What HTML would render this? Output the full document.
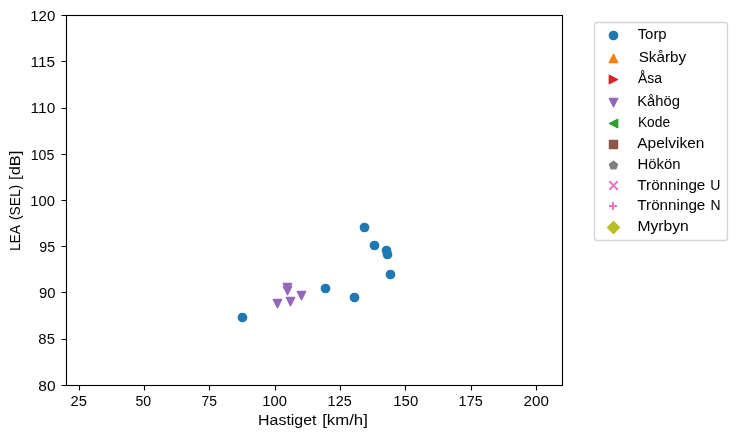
<!DOCTYPE html>
<html lang="sv">
<head>
<meta charset="utf-8">
<title>LEA (SEL) vs Hastiget</title>
<style>
html,body{margin:0;padding:0;background:#fff;}
body{width:736px;height:438px;overflow:hidden;}
svg{display:block;will-change:transform;}
text{font-family:"Liberation Sans",sans-serif;font-size:14.3px;fill:#000;}
</style>
</head>
<body>
<svg width="736" height="438" viewBox="0 0 736 438">
<rect x="0" y="0" width="736" height="438" fill="#fff"/>
<!-- data markers -->
<g id="torp" fill="#1f77b4"><circle cx="242.5" cy="317.5" r="4.86"/><circle cx="325.5" cy="288.5" r="4.86"/><circle cx="354.5" cy="297.5" r="4.86"/><circle cx="364.5" cy="227.5" r="4.86"/><circle cx="374.5" cy="245.5" r="4.86"/><circle cx="386.5" cy="250.5" r="4.86"/><circle cx="387.5" cy="254.5" r="4.86"/><circle cx="390.5" cy="274.5" r="4.86"/></g>
<g id="kahog" fill="#9467bd" stroke="#9467bd" stroke-width="1.389" stroke-linejoin="round"><polygon points="277.50,307.67 281.67,299.33 273.33,299.33"/><polygon points="287.50,291.67 291.67,283.33 283.33,283.33"/><polygon points="287.50,294.67 291.67,286.33 283.33,286.33"/><polygon points="290.50,305.67 294.67,297.33 286.33,297.33"/><polygon points="301.50,299.67 305.67,291.33 297.33,291.33"/></g>
<!-- axes frame and ticks -->
<path d="M79.5 385.5V390.5M144.5 385.5V390.5M209.5 385.5V390.5M275.5 385.5V390.5M340.5 385.5V390.5M405.5 385.5V390.5M471.5 385.5V390.5M536.5 385.5V390.5M66.5 15.5H61.5M66.5 61.5H61.5M66.5 108.5H61.5M66.5 154.5H61.5M66.5 200.5H61.5M66.5 246.5H61.5M66.5 292.5H61.5M66.5 339.5H61.5M66.5 385.5H61.5" stroke="#000" stroke-width="1.11" fill="none"/>
<rect x="66.5" y="15.5" width="496.0" height="370.0" fill="none" stroke="#000" stroke-width="1.11"/>
<g id="ticklabels" opacity="0.999">
<text transform="translate(30.27,21.00) scale(1.0490,1)">120</text>
<text transform="translate(30.55,67.00) scale(1.0743,1)">115</text>
<text transform="translate(30.54,113.00) scale(1.0859,1)">110</text>
<text transform="translate(30.64,160.00) scale(0.9926,1)">105</text>
<text transform="translate(30.29,206.00) scale(1.0335,1)">100</text>
<text transform="translate(39.29,252.00) scale(0.9987,1)">95</text>
<text transform="translate(38.96,298.00) scale(1.0387,1)">90</text>
<text transform="translate(38.35,344.00) scale(1.0425,1)">85</text>
<text transform="translate(38.32,391.00) scale(1.0850,1)">80</text>
<text transform="translate(70.56,406.00) scale(1.0296,1)">25</text>
<text transform="translate(135.38,406.00) scale(0.9867,1)">50</text>
<text transform="translate(201.60,406.00) scale(0.9754,1)">75</text>
<text transform="translate(262.29,406.00) scale(1.0335,1)">100</text>
<text transform="translate(327.62,406.00) scale(1.0074,1)">125</text>
<text transform="translate(393.27,406.00) scale(1.0490,1)">150</text>
<text transform="translate(458.62,406.00) scale(1.0074,1)">175</text>
<text transform="translate(523.54,406.00) scale(1.0614,1)">200</text>
</g>
<g id="axislabels" opacity="0.999">
<text transform="translate(258.11,425.00) scale(1.1130,1)">Hastiget</text>
<text transform="translate(322.14,425.00) scale(1.1742,1)">[km/h]</text>
<text transform="translate(20.00,251.12) rotate(-90) scale(0.9679,1)">LEA</text>
<text transform="translate(20.00,220.06) rotate(-90) scale(0.9634,1)">(SEL)</text>
<text transform="translate(20.00,179.93) rotate(-90) scale(1.1531,1)">[dB]</text>
</g>
<!-- legend -->
<g id="legend" stroke-width="1.389" stroke-linejoin="round">
<rect x="594.5" y="22.5" width="133" height="218" rx="2.78" ry="2.78" fill="#fff" fill-opacity="0.8" stroke="#ccc" stroke-opacity="0.8" stroke-width="1.389"/>
<circle cx="613.5" cy="35.5" r="4.86" fill="#1f77b4"/>
<polygon points="613.50,54.33 609.33,62.67 617.67,62.67" fill="#ff7f0e" stroke="#ff7f0e"/>
<polygon points="617.67,79.50 609.33,75.33 609.33,83.67" fill="#d62728" stroke="#d62728"/>
<polygon points="613.50,106.67 617.67,98.33 609.33,98.33" fill="#9467bd" stroke="#9467bd"/>
<polygon points="609.33,123.50 617.67,127.67 617.67,119.33" fill="#2ca02c" stroke="#2ca02c"/>
<rect x="608.8" y="139.8" width="9.4" height="9.4" rx="0.6" fill="#8c564b"/>
<polygon points="613.50,161.33 617.46,164.21 615.95,168.87 611.05,168.87 609.54,164.21" fill="#7f7f7f" stroke="#7f7f7f"/>
<path d="M609.33 181.33L617.67 189.67M609.33 189.67L617.67 181.33" stroke="#e377c2" stroke-width="2.083" fill="none"/>
<path d="M609 206H617M613 202V210" stroke="#e377c2" stroke-width="2.083" fill="none"/>
<polygon points="613.5,221.61 619.39,227.5 613.5,233.39 607.61,227.5" fill="#bcbd22" stroke="#bcbd22"/>
<g id="legendlabels" opacity="0.999">
<text transform="translate(637.63,39.00) scale(1.0443,1)">Torp</text>
<text transform="translate(638.64,62.00) scale(1.0683,1)">Skårby</text>
<text transform="translate(637.91,83.00) scale(0.9779,1)">Åsa</text>
<text transform="translate(637.20,106.00) scale(1.0348,1)">Kåhög</text>
<text transform="translate(637.88,127.00) scale(0.9659,1)">Kode</text>
<text transform="translate(637.30,148.00) scale(1.0828,1)">Apelviken</text>
<text transform="translate(637.49,169.00) scale(1.0449,1)">Hökön</text>
<text transform="translate(637.32,190.00) scale(1.0663,1)">Trönninge</text>
<text transform="translate(710.25,190.00) scale(0.9835,1)">U</text>
<text transform="translate(637.32,210.00) scale(1.0663,1)">Trönninge</text>
<text transform="translate(710.57,210.00) scale(0.9755,1)">N</text>
<text transform="translate(637.43,231.00) scale(1.0943,1)">Myrbyn</text>
</g>
</g>
</svg>
</body>
</html>
